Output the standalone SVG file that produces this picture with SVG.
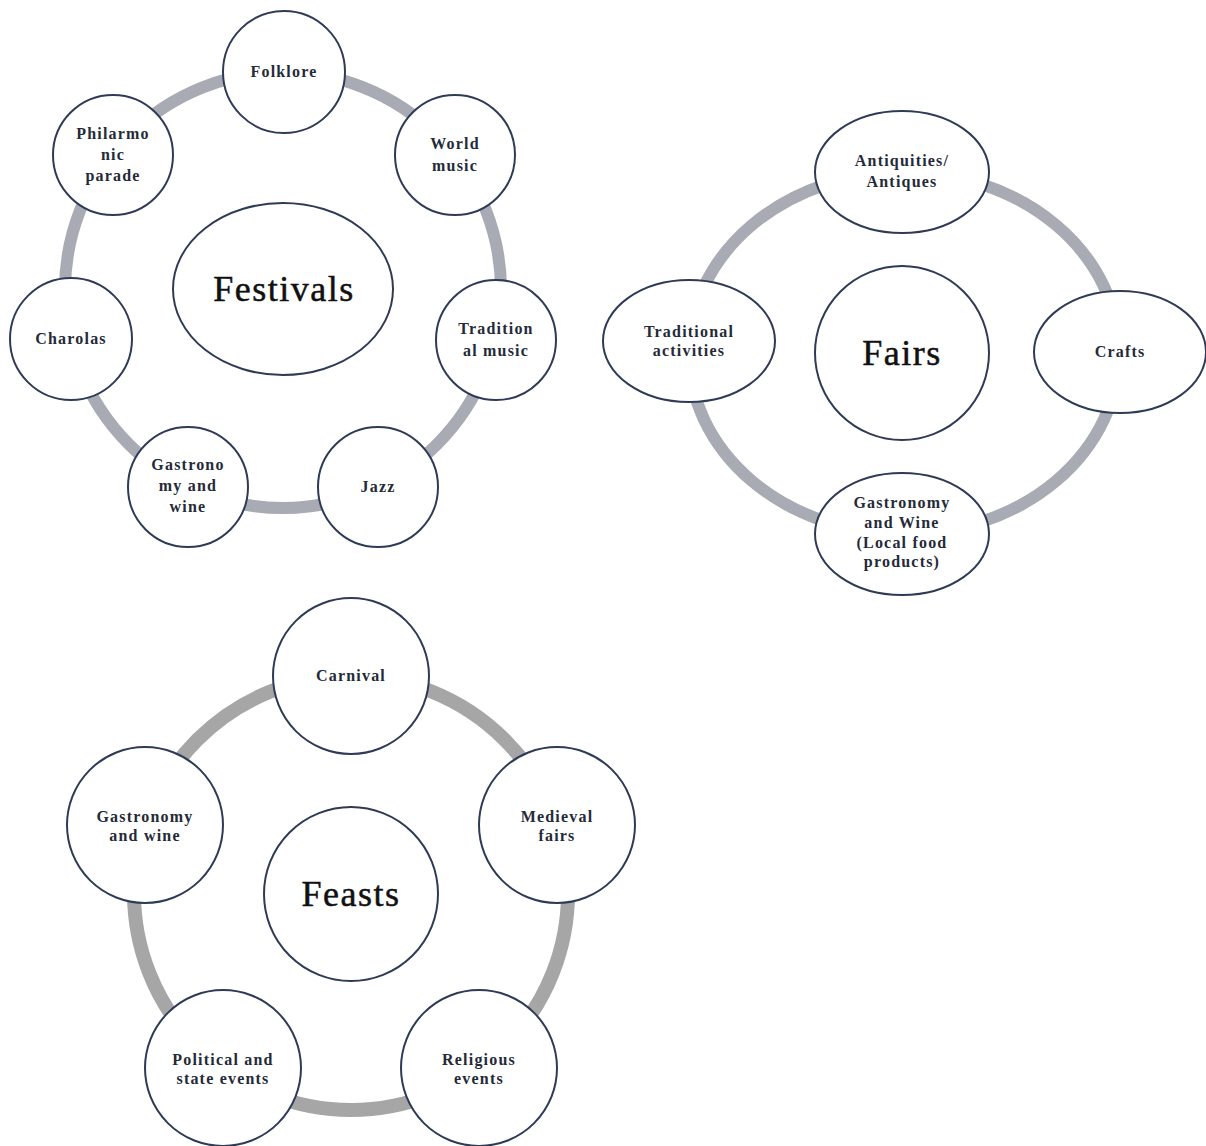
<svg xmlns="http://www.w3.org/2000/svg" width="1206" height="1146" viewBox="0 0 1206 1146">
<style>
.ring{fill:none;stroke:#a8abb3;stroke-width:12}
.ring2{fill:none;stroke:#a6a6a6;stroke-width:14}
.node{fill:#ffffff;stroke:#2f3b56;stroke-width:2}
.t{font-family:"Liberation Serif","Times New Roman",serif;font-size:16px;font-weight:bold;letter-spacing:1.2px;fill:#252a38;text-anchor:middle}
.big{font-family:"Liberation Serif","Times New Roman",serif;font-size:36px;letter-spacing:1.5px;fill:#111111;stroke:#111111;stroke-width:0.5;text-anchor:middle}
</style>
<rect width="1206" height="1146" fill="#ffffff"/>
<g id="connectors">
<circle class="ring" cx="283" cy="290" r="218"/>
<ellipse class="ring" cx="904" cy="353" rx="215" ry="181"/>
<circle class="ring2" cx="351" cy="893" r="217"/>
</g>
<g id="festivals">
<g id="festivals-center"><ellipse class="node" cx="283" cy="289" rx="110" ry="86"/><text class="big" x="284" y="301">Festivals</text></g>
<g id="folklore"><circle class="node" cx="284" cy="72" r="61"/><text class="t" x="284" y="77">Folklore</text></g>
<g id="world-music"><circle class="node" cx="455" cy="155" r="60"/><text class="t" x="455" y="149">World</text><text class="t" x="455" y="171">music</text></g>
<g id="traditional-music"><circle class="node" cx="496" cy="340" r="60"/><text class="t" x="496" y="334">Tradition</text><text class="t" x="496" y="356">al music</text></g>
<g id="jazz"><circle class="node" cx="378" cy="487" r="60"/><text class="t" x="378" y="492">Jazz</text></g>
<g id="gastronomy-festivals"><circle class="node" cx="188" cy="487" r="60"/><text class="t" x="188" y="470">Gastrono</text><text class="t" x="188" y="491">my and</text><text class="t" x="188" y="512">wine</text></g>
<g id="charolas"><circle class="node" cx="71" cy="339" r="61"/><text class="t" x="71" y="344">Charolas</text></g>
<g id="philarmonic"><circle class="node" cx="113" cy="155" r="60"/><text class="t" x="113" y="139">Philarmo</text><text class="t" x="113" y="160">nic</text><text class="t" x="113" y="181">parade</text></g>
</g>
<g id="fairs">
<g id="fairs-center"><circle class="node" cx="902" cy="353" r="87"/><text class="big" x="902" y="365">Fairs</text></g>
<g id="antiquities"><ellipse class="node" cx="902" cy="172" rx="87" ry="61"/><text class="t" x="902" y="166">Antiquities/</text><text class="t" x="902" y="187">Antiques</text></g>
<g id="crafts"><ellipse class="node" cx="1120" cy="352" rx="86" ry="61"/><text class="t" x="1120" y="357">Crafts</text></g>
<g id="gastronomy-fairs"><ellipse class="node" cx="902" cy="534" rx="87" ry="61"/><text class="t" x="902" y="508">Gastronomy</text><text class="t" x="902" y="528">and Wine</text><text class="t" x="902" y="548">(Local food</text><text class="t" x="902" y="567">products)</text></g>
<g id="traditional-activities"><ellipse class="node" cx="689" cy="341" rx="86" ry="61"/><text class="t" x="689" y="337">Traditional</text><text class="t" x="689" y="356">activities</text></g>
</g>
<g id="feasts">
<g id="feasts-center"><circle class="node" cx="351" cy="894" r="87"/><text class="big" x="351" y="906">Feasts</text></g>
<g id="carnival"><circle class="node" cx="351" cy="676" r="78"/><text class="t" x="351" y="681">Carnival</text></g>
<g id="medieval"><circle class="node" cx="557" cy="825" r="78"/><text class="t" x="557" y="822">Medieval</text><text class="t" x="557" y="841">fairs</text></g>
<g id="religious"><circle class="node" cx="479" cy="1068" r="78"/><text class="t" x="479" y="1065">Religious</text><text class="t" x="479" y="1084">events</text></g>
<g id="political"><circle class="node" cx="223" cy="1068" r="78"/><text class="t" x="223" y="1065">Political and</text><text class="t" x="223" y="1084">state events</text></g>
<g id="gastronomy-feasts"><circle class="node" cx="145" cy="825" r="78"/><text class="t" x="145" y="822">Gastronomy</text><text class="t" x="145" y="841">and wine</text></g>
</g>
</svg>
